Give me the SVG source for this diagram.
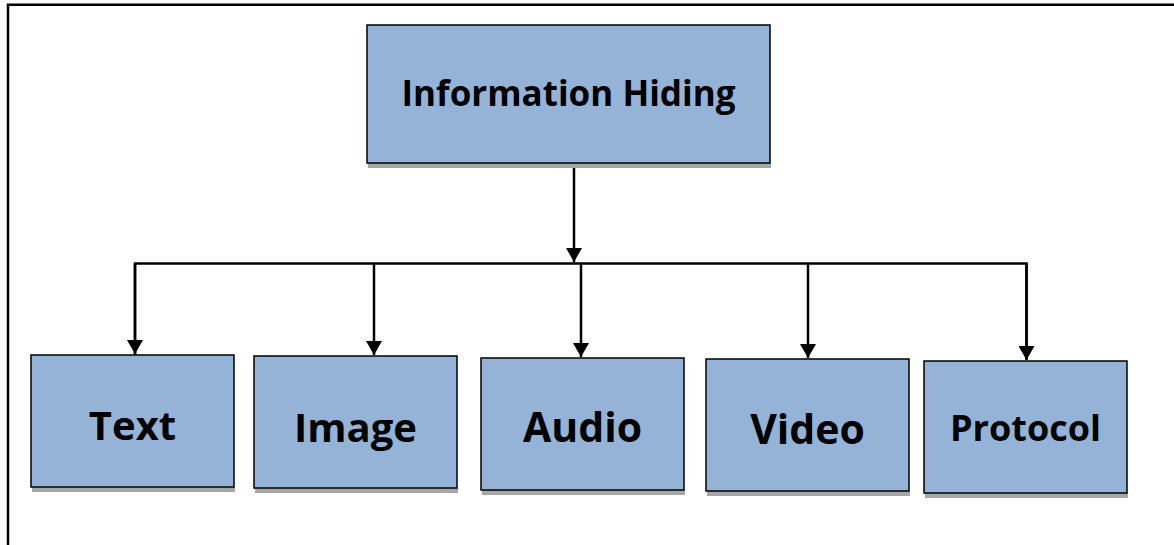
<svg xmlns="http://www.w3.org/2000/svg" width="1174" height="545" viewBox="0 0 1174 545">
  <style>
    .box { fill: #95b3d7; stroke: #000; stroke-width: 1.5; }
    .shadow { fill: #a6a6a6; }
    .label { font-family: "Open Sans", "Liberation Sans", sans-serif; font-weight: bold; fill: #000; text-anchor: middle; font-variant-ligatures: none; }
    .wire { fill: none; stroke: #000; stroke-width: 2.5; }
    .frame { fill: none; stroke: #000; stroke-width: 2.5; }
  </style>
  <defs>
    <marker id="down" markerUnits="userSpaceOnUse" markerWidth="16" markerHeight="16" viewBox="0 0 16 16" refX="8" refY="15" orient="0">
      <path d="M0,1 L16,1 L8,15 Z" fill="#000"/>
    </marker>
  </defs>

  <rect width="1174" height="545" fill="#fff"/>

  <!-- page frame: top and left edges only -->
  <path class="frame" d="M8,545 V4.8 H1174"/>

  <!-- connectors -->
  <g id="connectors">
    <path class="wire" d="M574,164 V262" marker-end="url(#down)"/>
    <path class="wire" d="M135,355 V263.5 H1026.5 V359"/>
    <path class="wire" d="M135,263.5 V354" marker-end="url(#down)"/>
    <path class="wire" d="M374,263.5 V355" marker-end="url(#down)"/>
    <path class="wire" d="M581,263.5 V357" marker-end="url(#down)"/>
    <path class="wire" d="M808,263.5 V358" marker-end="url(#down)"/>
    <path class="wire" d="M1026.5,263.5 V360" marker-end="url(#down)"/>
  </g>

  <g id="information-hiding">
    <rect class="shadow" x="368" y="163" width="403" height="5"/>
    <rect class="box" x="367" y="25" width="403" height="138"/>
    <text class="label" x="568.5" y="106" font-size="35">Information Hiding</text>
  </g>

  <g id="text">
    <rect class="shadow" x="32" y="487" width="203" height="5"/>
    <rect class="box" x="31" y="355" width="203" height="132"/>
    <text class="label" x="132.5" y="440" font-size="40">Text</text>
  </g>

  <g id="image">
    <rect class="shadow" x="255" y="488" width="203" height="5"/>
    <rect class="box" x="254" y="356" width="203" height="132"/>
    <text class="label" x="355.5" y="442" font-size="40">Image</text>
  </g>

  <g id="audio">
    <rect class="shadow" x="482" y="490" width="203" height="5"/>
    <rect class="box" x="481" y="358" width="203" height="132"/>
    <text class="label" x="582.5" y="442" font-size="41">Audio</text>
  </g>

  <g id="video">
    <rect class="shadow" x="707" y="491" width="203" height="5"/>
    <rect class="box" x="706" y="359" width="203" height="132"/>
    <text class="label" x="807.5" y="444" font-size="41">Video</text>
  </g>

  <g id="protocol">
    <rect class="shadow" x="925" y="493" width="203" height="5"/>
    <rect class="box" x="924" y="361" width="203" height="132"/>
    <text class="label" x="1025.5" y="441" font-size="36">Protocol</text>
  </g>
</svg>
